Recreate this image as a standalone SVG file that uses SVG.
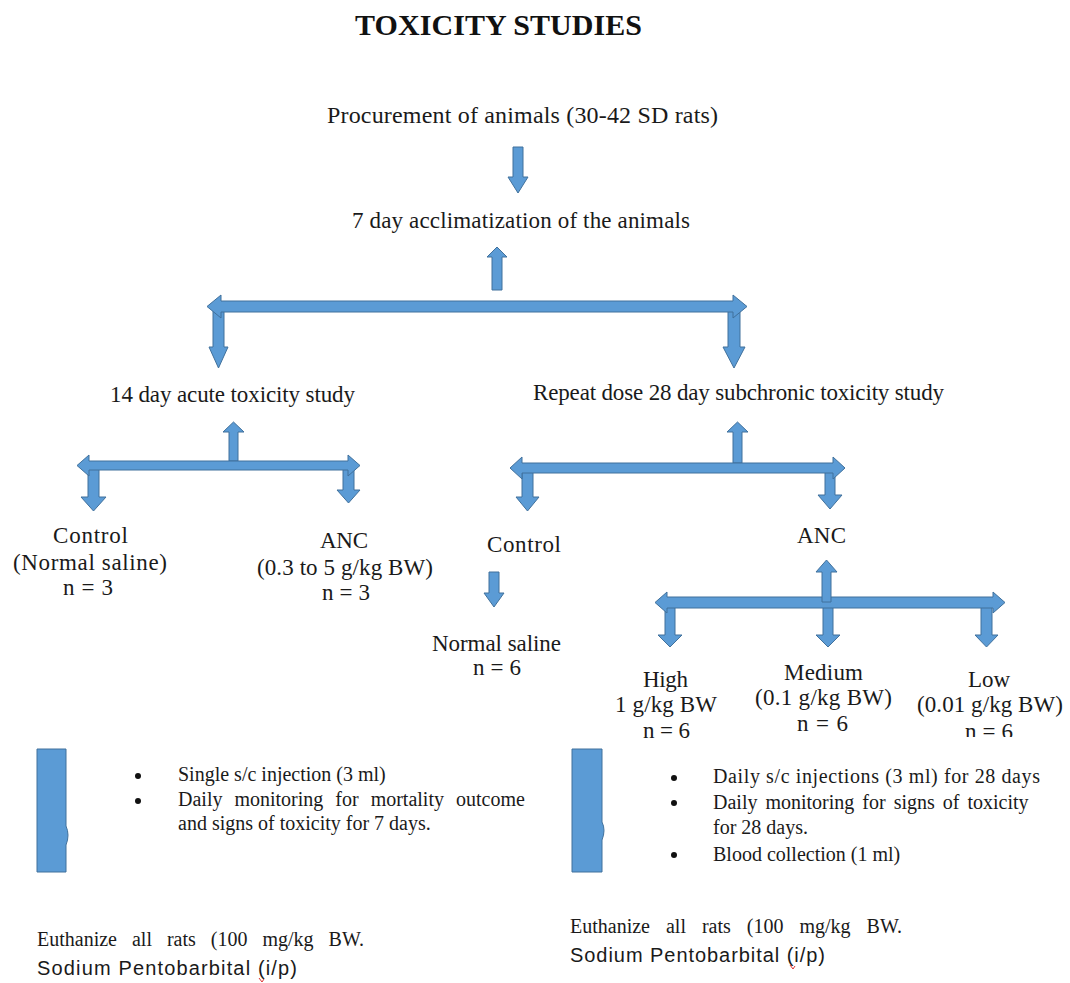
<svg xmlns="http://www.w3.org/2000/svg" width="1070" height="983" viewBox="0 0 1070 983">
<style>
.t{font-family:"Liberation Serif","Times New Roman",serif;font-size:23px;fill:#1a1a1a}
.b{font-family:"Liberation Serif","Times New Roman",serif;font-size:20px;fill:#1a1a1a}
.s{font-family:"Liberation Sans",Arial,sans-serif;font-size:20px;fill:#1a1a1a}
.title{font-family:"Liberation Serif","Times New Roman",serif;font-size:30px;font-weight:bold;fill:#111}
.a{fill:#5B9BD5;stroke:#41719C;stroke-width:1;stroke-linejoin:miter}
.dot{fill:#111}
</style>
<defs>
<clipPath id="clipLow"><rect x="900" y="600" width="170" height="137"/></clipPath>
</defs>
<rect width="1070" height="983" fill="#fff"/>

<g id="title"><text class="title" x="355" y="35" textLength="287">TOXICITY STUDIES</text></g>

<g id="procurement"><text class="t" x="327" y="123" style="font-size:24px" textLength="391">Procurement of animals (30-42 SD rats)</text></g>
<g id="acclimatization"><text class="t" x="352" y="228" textLength="338">7 day acclimatization of the animals</text></g>
<g id="acute"><text class="t" x="110" y="402" textLength="245">14 day acute toxicity study</text></g>
<g id="subchronic"><text class="t" x="533" y="400" textLength="411">Repeat dose 28 day subchronic toxicity study</text></g>

<g id="acute-control">
<text class="t" x="53" y="543" textLength="75">Control</text>
<text class="t" x="13" y="570" textLength="154">(Normal saline)</text>
<text class="t" x="63" y="595" textLength="50">n = 3</text>
</g>
<g id="acute-anc">
<text class="t" x="320" y="548" textLength="48">ANC</text>
<text class="t" x="257" y="575" textLength="176">(0.3 to 5 g/kg BW)</text>
<text class="t" x="322" y="600" textLength="48">n = 3</text>
</g>
<g id="sub-control"><text class="t" x="487" y="552" textLength="74">Control</text></g>
<g id="sub-saline">
<text class="t" x="432" y="651" textLength="129">Normal saline</text>
<text class="t" x="473" y="675" textLength="48">n = 6</text>
</g>
<g id="sub-anc"><text class="t" x="797" y="543" textLength="49">ANC</text></g>
<g id="high">
<text class="t" x="643" y="687" textLength="45">High</text>
<text class="t" x="615" y="712" textLength="102">1 g/kg BW</text>
<text class="t" x="643" y="738" textLength="47">n = 6</text>
</g>
<g id="medium">
<text class="t" x="784" y="680" textLength="79">Medium</text>
<text class="t" x="755" y="705" textLength="137">(0.1 g/kg BW)</text>
<text class="t" x="797" y="731" textLength="51">n = 6</text>
</g>
<g id="low">
<text class="t" x="968" y="687" textLength="42">Low</text>
<text class="t" x="917" y="712" textLength="146">(0.01 g/kg BW)</text>
<text class="t" x="965" y="739" textLength="48" clip-path="url(#clipLow)">n = 6</text>
</g>

<g id="acute-procedure">
<path class="a" d="M37,749 H66 V826 Q70,835 66,845 V872 H37 Z"/>
<circle class="dot" cx="138" cy="776" r="3"/>
<circle class="dot" cx="138" cy="801" r="3"/>
<text class="b" x="178" y="781">Single s/c injection (3 ml)</text>
<text class="b" x="178" y="806" style="word-spacing:7px">Daily monitoring for mortality outcome</text>
<text class="b" x="178" y="830">and signs of toxicity for 7 days.</text>
</g>
<g id="sub-procedure">
<path class="a" d="M572,749 H602 V822 Q606,830 602,840 V872 H572 Z"/>
<circle class="dot" cx="674" cy="778" r="3"/>
<circle class="dot" cx="674" cy="803" r="3"/>
<circle class="dot" cx="674" cy="855" r="3"/>
<text class="b" x="713" y="783" textLength="327">Daily s/c injections (3 ml) for 28 days</text>
<text class="b" x="713" y="809" style="word-spacing:3px">Daily monitoring for signs of toxicity</text>
<text class="b" x="713" y="834">for 28 days.</text>
<text class="b" x="713" y="861">Blood collection (1 ml)</text>
</g>

<g id="acute-euthanize">
<text class="b" x="37" y="946" style="word-spacing:10px">Euthanize all rats (100 mg/kg BW.</text>
<text class="s" x="37" y="975" textLength="260">Sodium Pentobarbital (i/p)</text>
<path d="M259,978 l3,4 l2,-3" fill="none" stroke="#d33" stroke-width="1"/>
</g>
<g id="sub-euthanize">
<text class="b" x="570" y="933" style="word-spacing:11px">Euthanize all rats (100 mg/kg BW.</text>
<text class="s" x="570" y="962" textLength="255">Sodium Pentobarbital (i/p)</text>
<path d="M790,965 l3,4 l2,-3" fill="none" stroke="#d33" stroke-width="1"/>
</g>

<g id="connectors">
<polygon class="a" points="513,147 523,147 523,177 528,177 518,193 508,177 513,177"/>
<polygon class="a" points="497,247 507,257 502,257 502,290 492,290 492,257 487,257"/>
<polygon class="a" points="213,306 224,306 224,347 228,347 218.5,368 209,347 213,347"/>
<polygon class="a" points="728,306 740,306 740,347 745,347 734,368 723,347 728,347"/>
<polygon class="a" points="207,306.5 221,295 221,301 733,301 733,295 747,306.5 733,318 733,312 221,312 221,318"/>

<polygon class="a" points="233.5,422 244,432 238,432 238,461 229,461 229,432 223,432"/>
<polygon class="a" points="88,465 99,465 99,497 106,497 93.5,511 81,497 88,497"/>
<polygon class="a" points="343,465 354,465 354,490 360,490 348.5,503 337,490 343,490"/>
<polygon class="a" points="77,465.5 89,455 89,461 348,461 348,455 360,465.5 348,476 348,470 89,470 89,476"/>

<polygon class="a" points="737.5,422 748,432 742,432 742,463 733,463 733,432 727,432"/>
<polygon class="a" points="522,468 533,468 533,497 539,497 527.5,511 516,497 522,497"/>
<polygon class="a" points="825,468 835,468 835,495 842,495 830,509 818,495 825,495"/>
<polygon class="a" points="510,468 522,457 522,463 833,463 833,457 845,468 833,479 833,473 522,473 522,479"/>

<polygon class="a" points="489,572 499,572 499,593 504,593 494,607 484,593 489,593"/>

<polygon class="a" points="665,603 675,603 675,635 682,635 670,647 658,635 665,635"/>
<polygon class="a" points="823,603 833,603 833,635 840,635 828,647 816,635 823,635"/>
<polygon class="a" points="981,603 992,603 992,635 998,635 986.5,647 975,635 981,635"/>
<polygon class="a" points="655,602.5 667,592 667,597 993,597 993,592 1005,602.5 993,613 993,608 667,608 667,613"/>
<polygon class="a" points="826.5,560 837,572 831,572 831,602 822,602 822,572 816,572"/>
</g>
</svg>
